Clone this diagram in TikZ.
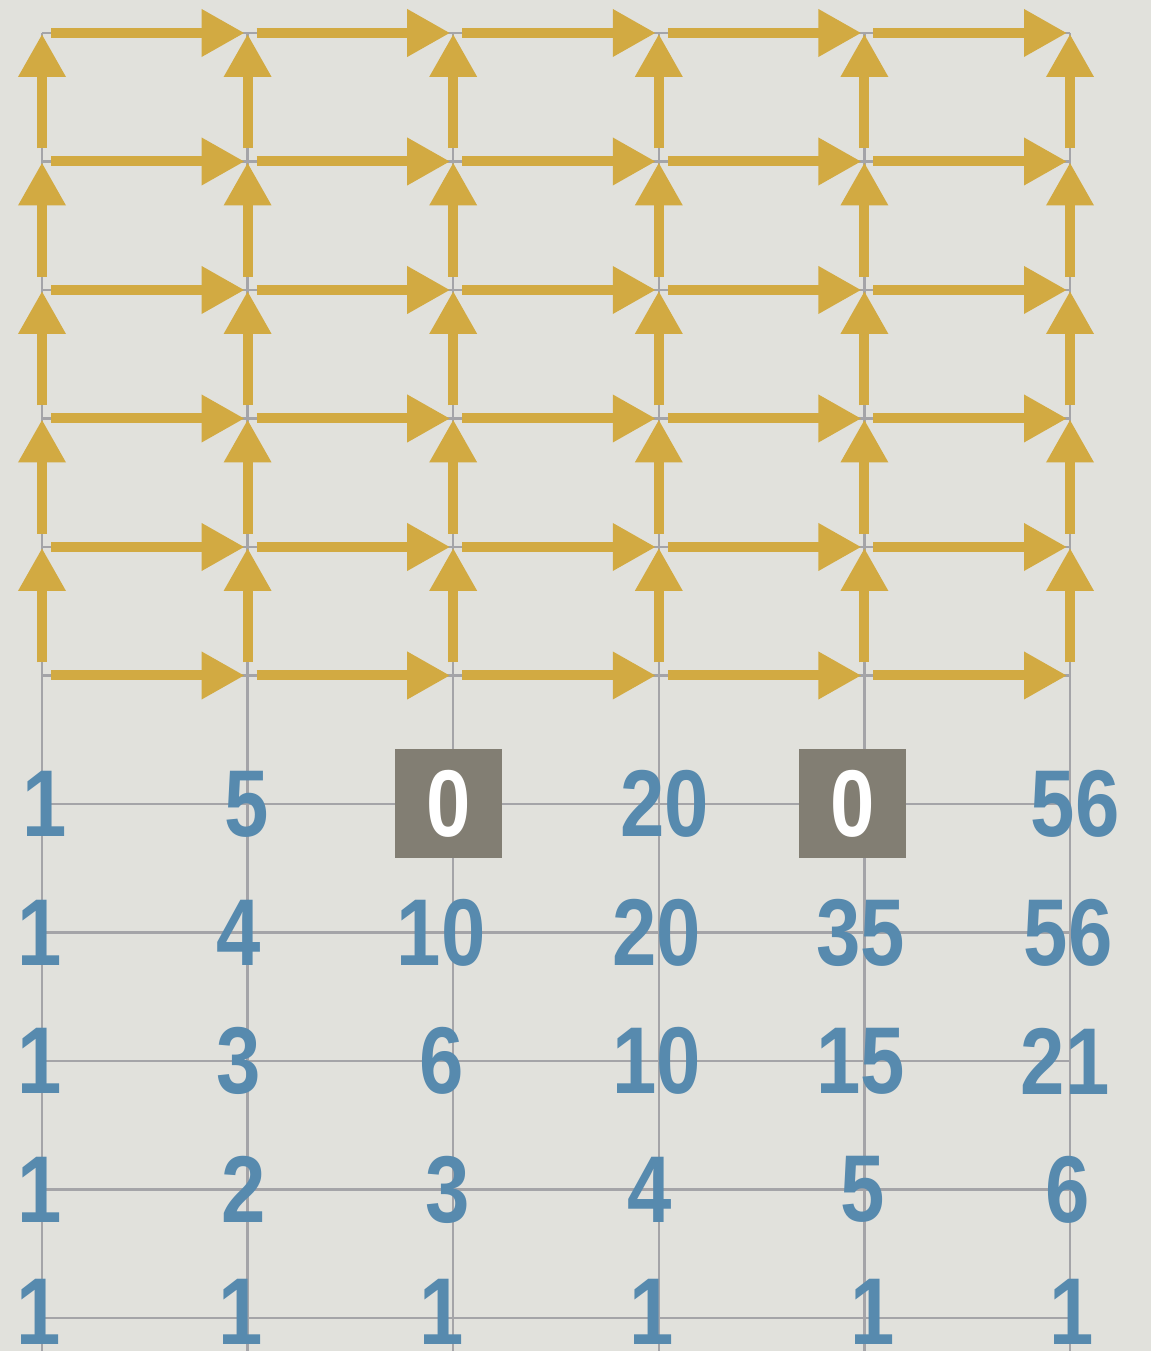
\documentclass[tikz,border=0pt]{standalone}
\usepackage{fontspec}
\usetikzlibrary{arrows.meta}
\newfontfamily\pathFont[FakeStretch=0.84]{Liberation Sans}
\definecolor{pathPaper}{HTML}{E1E1DC}
\definecolor{pathGrid}{HTML}{A4A4A8}
\definecolor{pathGold}{HTML}{D2AA42}
\definecolor{pathBlue}{HTML}{578AAE}
\definecolor{pathBlock}{HTML}{827E73}
\tikzset{
  gridLine/.style={pathGrid, line width=0.025cm},
  stepArrow/.style={
    pathGold,
    line width=0.10cm,
    -{Triangle[width=0.45cm,length=0.43cm]}
  },
  countLabel/.style={
    text=pathBlue,
    font=\pathFont\bfseries\fontsize{27}{27}\selectfont,
    inner sep=0pt
  },
  blockedCell/.style={
    fill=pathBlock,
    text=white,
    font=\pathFont\bfseries\fontsize{27}{27}\selectfont,
    minimum width=1.07cm,
    minimum height=1.09cm,
    inner sep=0pt
  }
}

\begin{document}
\begin{tikzpicture}[x=1cm,y=1cm]
  \fill[pathPaper] (0,0) rectangle (11.51,13.51);
  \useasboundingbox (0,0) rectangle (11.51,13.51);
  \foreach \i in {0,...,5} {
    \foreach \k in {0,...,10} {
      \coordinate (g-\i-\k) at ({0.42+2.056*\i},{13.18-1.285*\k});
    }
    \coordinate (b-\i) at ({0.42+2.056*\i},0);
  }

  % grid
  \foreach \k in {0,...,10}
    \draw[gridLine] (g-0-\k) -- (g-5-\k);
  \foreach \i in {0,...,5}
    \draw[gridLine] (g-\i-0) -- (b-\i);

  % lattice steps
  \foreach \i [count=\j] in {0,...,4}
    \foreach \k in {0,...,5}
      \draw[stepArrow, shorten <=0.09cm, shorten >=0.03cm] (g-\i-\k) -- (g-\j-\k);
  \foreach \i in {0,...,5}
    \foreach \k [count=\m from 0] in {1,...,5}
      \draw[stepArrow, shorten <=0.13cm, shorten >=0.01cm] (g-\i-\k) -- (g-\i-\m);

  % path counts
  \node[countLabel] (c-0-6) at ([xshift=0.03cm]g-0-6) {1};
  \node[countLabel] (c-1-6) at ([xshift=-0.01cm]g-1-6) {5};
  \node[blockedCell] (c-2-6) at ([xshift=-0.05cm]g-2-6) {0};
  \node[countLabel] (c-3-6) at ([xshift=0.06cm]g-3-6) {20};
  \node[blockedCell] (c-4-6) at ([xshift=-0.12cm]g-4-6) {0};
  \node[countLabel] (c-5-6) at ([xshift=0.05cm]g-5-6) {56};
  \foreach \v/\dx [count=\i from 0] in {1/-0.02,4/-0.09,10/-0.12,20/-0.02,35/-0.04,56/-0.02}
    \node[countLabel] (c-\i-7) at ([xshift=\dx cm]g-\i-7) {\v};
  \foreach \v/\dx [count=\i from 0] in {1/-0.02,3/-0.09,6/-0.12,10/-0.02,15/-0.04,21/-0.05}
    \node[countLabel] (c-\i-8) at ([xshift=\dx cm]g-\i-8) {\v};
  \foreach \v/\dx [count=\i from 0] in {1/-0.02,2/-0.04,3/-0.06,4/-0.09,5/-0.02,6/-0.02}
    \node[countLabel] (c-\i-9) at ([xshift=\dx cm]g-\i-9) {\v};
  \foreach \v/\dx [count=\i from 0] in {1/-0.03,1/-0.07,1/-0.12,1/-0.07,1/0.08,1/0.02}
    \node[countLabel] (c-\i-10) at ([xshift=\dx cm,yshift=0.06cm]g-\i-10) {\v};
\end{tikzpicture}
\end{document}
